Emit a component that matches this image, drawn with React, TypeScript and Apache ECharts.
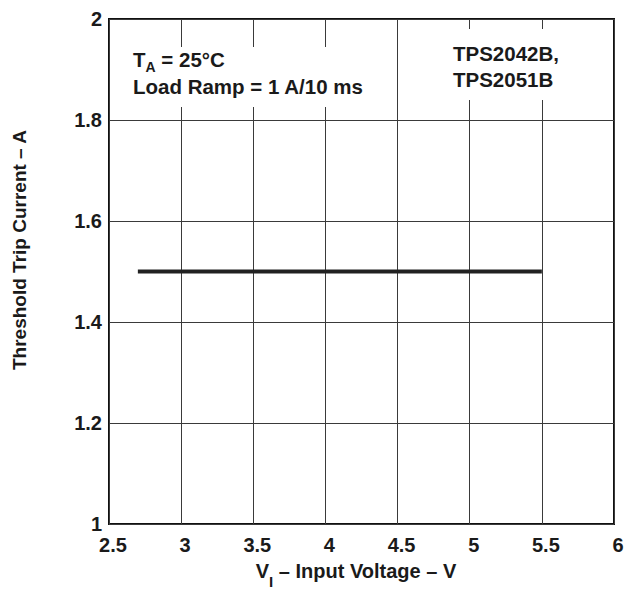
import React, { useEffect, useRef } from "react";
import * as echarts from "echarts";

const voltages = [2.7, 5.5];
const tripCurrent = [1.5, 1.5];
const xTicks = [2.5, 3, 3.5, 4, 4.5, 5, 5.5, 6];
const yTicks = [1, 1.2, 1.4, 1.6, 1.8, 2];

const FONT = "'Liberation Sans', Arial, Helvetica, sans-serif";
const INK = "#1a1a1a";

export default function App() {
  const ref = useRef<HTMLDivElement>(null);
  useEffect(() => {
    if (!ref.current) return;
    const chart = echarts.init(ref.current, undefined, { renderer: "svg" });
    const data = voltages.map((v, i) => [v, tripCurrent[i]]);
    chart.setOption({
      animation: false,
      backgroundColor: "#ffffff",
      grid: {
        left: 109,
        right: 15,
        top: 19,
        bottom: 67,
        show: true,
        borderColor: "#111111",
        borderWidth: 2,
        backgroundColor: "transparent",
      },
      xAxis: {
        type: "value",
        min: xTicks[0],
        max: xTicks[xTicks.length - 1],
        interval: 0.5,
        axisLine: { show: false },
        axisTick: { show: false },
        splitLine: { show: true, lineStyle: { color: "#3a3a3a", width: 1 } },
        axisLabel: {
          color: INK,
          fontFamily: FONT,
          fontWeight: "bold",
          fontSize: 20,
          margin: 11,
          padding: [0, 0, 0, 8],
          showMinLabel: true,
          showMaxLabel: true,
        },
      },
      yAxis: {
        type: "value",
        min: yTicks[0],
        max: yTicks[yTicks.length - 1],
        interval: 0.2,
        axisLine: { show: false },
        axisTick: { show: false },
        splitLine: { show: true, lineStyle: { color: "#3a3a3a", width: 1 } },
        axisLabel: {
          color: INK,
          fontFamily: FONT,
          fontWeight: "bold",
          fontSize: 20,
          margin: 7,
          formatter: (v: number) => String(Math.round(v * 10) / 10),
        },
      },
      series: [
        {
          type: "line",
          data,
          symbol: "none",
          lineStyle: { color: "#222222", width: 4 },
          silent: true,
        },
      ],
      graphic: [
        {
          type: "text",
          x: 19.5,
          y: 250,
          rotation: Math.PI / 2,
          style: {
            text: "Threshold Trip Current – A",
            fill: INK,
            font: `bold 19px ${FONT}`,
            align: "center",
            verticalAlign: "middle",
          },
        },
        {
          type: "text",
          x: 356,
          y: 561,
          style: {
            text: "{m|V}{s|I}{m| – Input Voltage – V}",
            align: "center",
            verticalAlign: "top",
            rich: {
              m: {
                fontFamily: FONT,
                fontWeight: "bold",
                fontSize: 20,
                lineHeight: 28,
                verticalAlign: "top",
                fill: INK,
              },
              s: {
                fontFamily: FONT,
                fontWeight: "bold",
                fontSize: 15,
                lineHeight: 16,
                verticalAlign: "bottom",
                fill: INK,
              },
            },
          },
        },
        {
          type: "rect",
          z: 9,
          shape: { x: 125, y: 47, width: 250, height: 60 },
          style: { fill: "#ffffff" },
        },
        {
          type: "text",
          x: 133,
          y: 49,
          z: 10,
          style: {
            text: "{m|T}{s|A}{m| = 25°C}",
            align: "left",
            verticalAlign: "top",
            rich: {
              m: {
                fontFamily: FONT,
                fontWeight: "bold",
                fontSize: 20.5,
                lineHeight: 25,
                verticalAlign: "top",
                fill: INK,
              },
              s: {
                fontFamily: FONT,
                fontWeight: "bold",
                fontSize: 14,
                lineHeight: 20,
                verticalAlign: "bottom",
                fill: INK,
              },
            },
          },
        },
        {
          type: "text",
          x: 133,
          y: 74,
          z: 10,
          style: {
            text: "Load Ramp = 1 A/10 ms",
            align: "left",
            verticalAlign: "top",
            fill: INK,
            font: `bold 20.5px ${FONT}`,
            lineHeight: 25,
          },
        },
        {
          type: "text",
          x: 445,
          y: 29,
          z: 10,
          style: {
            text: "{m|TPS2042B,}\n{m|TPS2051B}",
            align: "left",
            verticalAlign: "top",
            backgroundColor: "#ffffff",
            padding: [14, 8, 6, 8],
            rich: {
              m: {
                fontFamily: FONT,
                fontWeight: "bold",
                fontSize: 20.5,
                lineHeight: 25.5,
                verticalAlign: "top",
                fill: INK,
              },
            },
          },
        },
      ],
    });
    return () => chart.dispose();
  }, []);
  return (
    <div
      ref={ref}
      style={{ position: "fixed", left: 0, top: 0, width: 629, height: 591 }}
    />
  );
}
